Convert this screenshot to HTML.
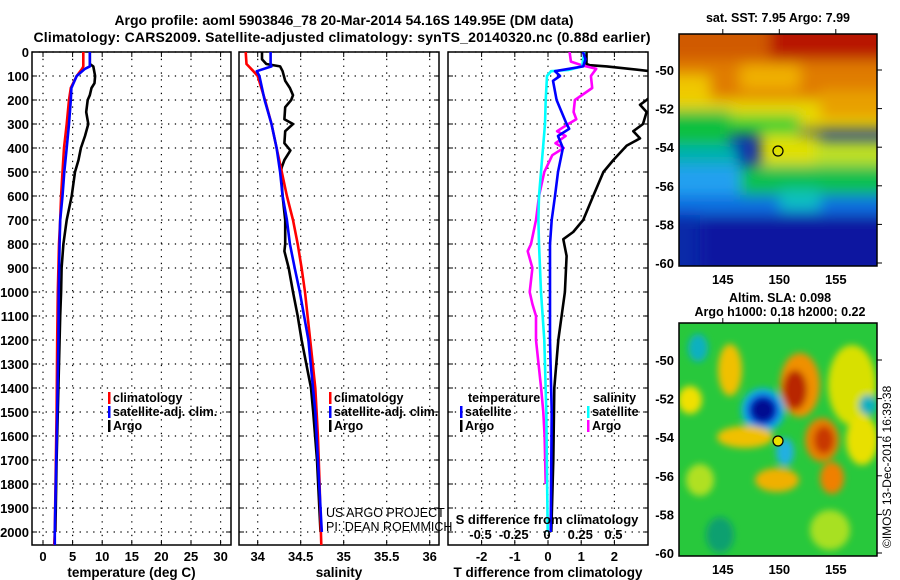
<!DOCTYPE html>
<html><head><meta charset="utf-8"><style>
html,body{margin:0;padding:0;background:#fff;}
svg{display:block;font-family:"Liberation Sans",sans-serif;}
.b{font-weight:bold;}
</style></head><body>
<svg id="c" width="900" height="580" viewBox="0 0 900 580">
<defs>
<filter id="bl" x="-20%" y="-20%" width="140%" height="140%"><feGaussianBlur stdDeviation="7"/></filter>
<filter id="bl2" x="-30%" y="-30%" width="160%" height="160%"><feGaussianBlur stdDeviation="3.5"/></filter>
<clipPath id="m1c"><rect x="679" y="34" width="198" height="232"/></clipPath>
<clipPath id="m2c"><rect x="679" y="323" width="198" height="233"/></clipPath>
<clipPath id="p1c"><rect x="32" y="52" width="199" height="493"/></clipPath>
<clipPath id="p2c"><rect x="239" y="52" width="200" height="493"/></clipPath>
<clipPath id="p3c"><rect x="448" y="52" width="200" height="493"/></clipPath>
</defs>
<text class="b" x="344" y="25" font-size="14" text-anchor="middle">Argo profile: aoml 5903846_78 20-Mar-2014 54.16S 149.95E (DM data)</text>
<text class="b" x="342" y="42" font-size="14" text-anchor="middle" textLength="617">Climatology: CARS2009. Satellite-adjusted climatology: synTS_20140320.nc (0.88d earlier)</text>

<!-- SST map -->
<g>
<g clip-path="url(#m1c)">
<rect x="679" y="34" width="198" height="232" fill="#0a2aa8"/>
<g filter="url(#bl)">
<rect x="660" y="20" width="240" height="60" fill="#d05a00"/>
<rect x="770" y="20" width="130" height="40" fill="#b81800"/>
<rect x="660" y="60" width="240" height="40" fill="#e07c00"/>
<rect x="660" y="75" width="50" height="30" fill="#f0c800"/>
<rect x="740" y="65" width="60" height="25" fill="#f0b000"/>
<rect x="660" y="100" width="240" height="30" fill="#e8d800"/>
<rect x="820" y="90" width="80" height="30" fill="#e8a000"/>
<rect x="660" y="110" width="70" height="40" fill="#10c040"/>
<rect x="730" y="115" width="70" height="20" fill="#30d030"/>
<rect x="760" y="135" width="60" height="35" fill="#e0e000"/>
<rect x="815" y="140" width="85" height="30" fill="#c0e020"/>
<rect x="660" y="145" width="80" height="25" fill="#00b0b0"/>
<rect x="660" y="165" width="90" height="30" fill="#20a0f0"/>
<rect x="740" y="165" width="160" height="30" fill="#10c050"/>
<rect x="660" y="195" width="240" height="20" fill="#1070e0"/>
<rect x="780" y="190" width="40" height="20" fill="#10c0c0"/>
<rect x="700" y="215" width="200" height="60" fill="#0818a0"/>
</g></g>
<rect x="679" y="34" width="198" height="232" fill="none" stroke="#000" stroke-width="1.5"/>
<circle cx="778" cy="151" r="5" fill="none" stroke="#000" stroke-width="1.2"/>
<text class="b" x="778" y="22" font-size="12.5" text-anchor="middle">sat. SST: 7.95 Argo: 7.99</text>
</g>

<!-- SLA map -->
<g>
<g clip-path="url(#m2c)">
<rect x="679" y="323" width="198" height="233" fill="#28c83c"/>
<g filter="url(#bl2)">
<ellipse cx="698" cy="348" rx="10" ry="14" fill="#10b0c0"/>
<ellipse cx="730" cy="370" rx="12" ry="26" fill="#f0c000"/>
<ellipse cx="800" cy="385" rx="20" ry="32" fill="#f09000"/>
<ellipse cx="795" cy="390" rx="12" ry="20" fill="#b82800"/>
<ellipse cx="690" cy="400" rx="12" ry="14" fill="#f0e000"/>
<circle cx="763" cy="410" r="22" fill="#10b0e0"/>
<circle cx="763" cy="410" r="16" fill="#1040e0"/>
<circle cx="763" cy="410" r="12" fill="#000a90"/>
<ellipse cx="745" cy="437" rx="28" ry="11" fill="#f0c000"/>
<ellipse cx="822" cy="440" rx="17" ry="22" fill="#e88000"/>
<ellipse cx="824" cy="440" rx="10" ry="14" fill="#c83800"/>
<ellipse cx="785" cy="452" rx="9" ry="14" fill="#20b0e0"/>
<ellipse cx="777" cy="480" rx="22" ry="12" fill="#f0b000"/>
<ellipse cx="832" cy="478" rx="12" ry="16" fill="#f08000"/>
<ellipse cx="852" cy="385" rx="24" ry="40" fill="#d8e000"/>
<ellipse cx="862" cy="440" rx="16" ry="25" fill="#e8e000"/>
<ellipse cx="868" cy="405" rx="9" ry="10" fill="#10b0c0"/>
<ellipse cx="700" cy="480" rx="14" ry="16" fill="#b0e020"/>
<ellipse cx="720" cy="535" rx="14" ry="18" fill="#10a070"/>
<ellipse cx="830" cy="530" rx="20" ry="20" fill="#a8e020"/>
</g></g>
<rect x="679" y="323" width="198" height="233" fill="none" stroke="#000" stroke-width="1.5"/>
<circle cx="778" cy="441" r="5" fill="#e8e000" stroke="#000" stroke-width="1.2"/>
<text class="b" x="780" y="302" font-size="12.5" text-anchor="middle">Altim. SLA: 0.098</text>
<text class="b" x="780" y="316" font-size="12.5" text-anchor="middle">Argo h1000: 0.18 h2000: 0.22</text>
</g>
<text x="891" y="548" font-size="12" transform="rotate(-90 891 548)">©IMOS 13-Dec-2016 16:39:38</text>
<g id="dyn"></g>
</svg>
<script>
// ---- data ----
var tDepth = [0,60,70,100,150,200,300,400,500,600,700,800,1000,1200,1500,2000,2055];
var tClim  = [6.8,6.8,6.6,5.7,4.7,4.4,4.0,3.55,3.3,3.05,2.9,2.7,2.5,2.4,2.3,2.0,1.9];
var tSat   = [7.9,7.9,7.1,5.7,4.8,4.7,4.4,4.0,3.6,3.3,2.9,2.8,2.65,2.6,2.4,2.0,2.0];
var aDepth = [0,50,60,100,130,150,180,200,250,300,350,400,450,500,600,700,800,900,1000,1100,1200,1500,1700,2000];
var tArgo  = [7.9,7.9,8.5,8.8,8.7,8.2,7.9,7.55,7.3,7.65,7.1,6.4,6.0,5.4,4.85,4.0,3.45,3.15,3.05,2.9,2.8,2.5,2.3,2.1];
var sDepth = [0,50,80,100,200,300,400,500,600,700,800,900,1000,1100,1200,1400,1600,1800,2000,2055];
var sClim  = [33.86,33.87,33.95,34.0,34.085,34.16,34.22,34.28,34.34,34.41,34.465,34.51,34.55,34.58,34.61,34.67,34.70,34.72,34.735,34.74];
var sbDepth= [0,50,60,80,100,200,300,400,500,600,700,800,900,1000,1100,1200,1500,2000];
var sSat   = [34.15,34.15,34.16,33.99,34.02,34.08,34.16,34.22,34.26,34.29,34.34,34.375,34.43,34.49,34.54,34.59,34.67,34.745];
var saDepth= [0,30,50,60,80,120,150,180,200,230,280,300,330,380,410,450,480,500,600,700,800,830,900,1000,1100,1200,1400,1500,1700,2000];
var sArgo  = [34.05,34.05,34.10,34.26,34.29,34.32,34.375,34.41,34.39,34.32,34.31,34.41,34.32,34.31,34.38,34.31,34.28,34.27,34.29,34.32,34.32,34.31,34.36,34.41,34.465,34.51,34.62,34.645,34.69,34.73];
var dtDepth= [0,30,60,80,100,120,200,300,320,350,400,500,600,700,800,1000,1200,1500,2000];
var dtSat  = [1.05,1.13,1.06,0.21,0.36,0.15,0.26,0.56,0.64,0.3,0.45,0.3,0.21,0.11,0.06,0.06,0.06,0.11,0.08];
var dsDepth= [0,60,75,80,100,200,300,400,500,600,700,800,1000,1200,1500,2000];
var dsSat  = [0.28,0.265,0.16,0.03,0.0,-0.01,-0.015,-0.03,-0.045,-0.06,-0.065,-0.06,-0.045,-0.02,-0.005,0.005];
var daDepth= [0,40,55,70,100,150,200,250,280,300,330,350,380,400,430,500,600,700,800,830,900,1000,1050,1100,1200,1400,1500,1600,1800];
var dsArgo = [0.17,0.18,0.26,0.37,0.33,0.34,0.21,0.2,0.22,0.16,0.076,0.14,0.064,0.125,0.04,-0.02,-0.06,-0.083,-0.12,-0.145,-0.11,-0.13,-0.11,-0.083,-0.083,-0.044,-0.028,-0.018,-0.01];
var dtaDepth=[0,50,55,60,80,100,150,200,220,250,300,330,360,390,450,500,600,700,750,780,850,1000,1100,1200,1400,1700,2000];
var dtArgo = [1.16,1.16,1.26,1.77,3.1,3.6,3.4,2.97,2.77,2.97,2.86,2.57,2.77,2.37,1.97,1.67,1.36,1.06,0.76,0.46,0.56,0.51,0.41,0.31,0.19,0.16,0.1];
var depthTicks=[0,100,200,300,400,500,600,700,800,900,1000,1100,1200,1300,1400,1500,1600,1700,1800,1900,2000];
var tTicks=[0,5,10,15,20,25,30];
var sTicks=[34,34.5,35,35.5,36];
var sTickLabels=["34","34.5","35","35.5","36"];
var dtTicks=[-2,-1,0,1,2];
var dsTicks=[-0.5,-0.25,0,0.25,0.5];
var dsTickLabels=["-0.5","-0.25","0","0.25","0.5"];

// ---- axes ----
function yD(d){return 52+d*0.24;}
function xT(t){return 43+t*5.92;}
function xS(s){return 257.7+(s-34)*86;}
function xDT(v){return 548+v*33.2;}
function xDS(v){return 547+v*133;}
var NS='http://www.w3.org/2000/svg';
var root=document.getElementById('dyn');
function mk(tag,attrs,parent){var e=document.createElementNS(NS,tag);for(var k in attrs)e.setAttribute(k,attrs[k]);(parent||root).appendChild(e);return e;}
function txt(x,y,s,anchor,size,bold,parent){var e=mk('text',{x:x,y:y,'font-size':size||13,'text-anchor':anchor||'middle'},parent);if(bold!==false)e.setAttribute('font-weight','bold');e.textContent=s;return e;}

var panels=[{x0:32,x1:231,ticks:tTicks,labels:tTicks.map(String),fx:xT,title:'temperature (deg C)',name:'temperature'},
 {x0:239,x1:439,ticks:sTicks,labels:sTickLabels,fx:xS,title:'salinity',name:'salinity'},
 {x0:448,x1:648,ticks:dtTicks,labels:dtTicks.map(String),fx:xDT,title:'T difference from climatology',name:'difference'}];
panels.forEach(function(p,i){
  var g=mk('g',{});
  
  
  depthTicks.forEach(function(d){
    mk('line',{x1:p.x0,x2:p.x1,y1:yD(d),y2:yD(d),stroke:'#000','stroke-width':1.2,'stroke-dasharray':'1.3 5.5'},g);
    mk('line',{x1:p.x0,x2:p.x0+5,y1:yD(d),y2:yD(d),stroke:'#000'},g);
    mk('line',{x1:p.x1-5,x2:p.x1,y1:yD(d),y2:yD(d),stroke:'#000'},g);
  });
  p.ticks.forEach(function(t,j){
    var x=p.fx(t);
    mk('line',{x1:x,x2:x,y1:52,y2:545,stroke:'#000','stroke-width':1.2,'stroke-dasharray':'1.3 5.5'},g);
    mk('line',{x1:x,x2:x,y1:545,y2:540,stroke:'#000'},g);
    mk('line',{x1:x,x2:x,y1:52,y2:57,stroke:'#000'},g);
    var lb=txt(x,561,p.labels[j],'middle',13,true,g);
    
    
  });
  mk('rect',{x:p.x0,y:52,width:p.x1-p.x0,height:493,fill:'none',stroke:'#000','stroke-width':1.5},g);
  var tt=txt((p.x0+p.x1)/2,577,p.title,'middle',13.5,true,g);
  
  
});
depthTicks.forEach(function(d){
  var e=txt(29,yD(d)+5,String(d),'end',13,true);
  
  
});
function mapAxes(top,bot,latY0){
  [-50,-52,-54,-56,-58,-60].forEach(function(l){var y=latY0+(-50-l)*19.3;
    mk('line',{x1:877,x2:882,y1:y,y2:y,stroke:'#000'});
    var e=txt(674,y+5,String(l),'end',13,true);
    
    });
  [145,150,155].forEach(function(lo){var x=779.3+(lo-150)*11.3;
    mk('line',{x1:x,x2:x,y1:top,y2:top-5,stroke:'#000'});
    var e=txt(x,bot+18,String(lo),'middle',13,true);
    
    });
}
mapAxes(34,266,70); mapAxes(323,556,360);

function series(depths,vals,fx,color,clip,name,w){
  var pts=depths.map(function(d,i){return fx(vals[i]).toFixed(1)+','+yD(d).toFixed(1);}).join(' ');
  var e=mk('polyline',{points:pts,fill:'none',stroke:color,'stroke-width':w||2.6,'clip-path':'url(#'+clip+')','stroke-linejoin':'round'});
  
  
}
series(aDepth,tArgo,xT,'#000','p1c','temp-argo-line');
series(tDepth,tClim,xT,'#f00','p1c','temp-climatology-line');
series(tDepth,tSat,xT,'#00f','p1c','temp-satellite-line');
series(saDepth,sArgo,xS,'#000','p2c','sal-argo-line');
series(sDepth,sClim,xS,'#f00','p2c','sal-climatology-line');
series(sbDepth,sSat,xS,'#00f','p2c','sal-satellite-line');
series(dtaDepth,dtArgo,xDT,'#000','p3c','tdiff-argo-line');
series(daDepth,dsArgo,xDS,'#f0f','p3c','sdiff-argo-line');
series(dsDepth,dsSat,xDS,'#0ff','p3c','sdiff-satellite-line');
series(dtDepth,dtSat,xDT,'#00f','p3c','tdiff-satellite-line');

function leg(x,y,color,label,name){
  mk('rect',{x:x,y:y-10,width:2.5,height:12,fill:color});
  var e=txt(x+5,y,label,'start',12.5,true);
  
  
}
leg(108,402,'#f00','climatology','legend-temp-climatology');
leg(108,416,'#00f','satellite-adj. clim.','legend-temp-satellite');
leg(108,430,'#000','Argo','legend-temp-argo');
leg(329,402,'#f00','climatology','legend-sal-climatology');
leg(329,416,'#00f','satellite-adj. clim.','legend-sal-satellite');
leg(329,430,'#000','Argo','legend-sal-argo');
var t1=txt(468,402,'temperature','start',12.5,true);  
leg(460,416,'#00f','satellite','legend-tdiff-satellite');
leg(460,430,'#000','Argo','legend-tdiff-argo');
var t2=txt(593,402,'salinity','start',12.5,true);  
leg(587,416,'#0ff','satellite','legend-sdiff-satellite');
leg(587,430,'#f0f','Argo','legend-sdiff-argo');
var st=txt(547,524,'S difference from climatology','middle',13,true);  
dsTicks.forEach(function(v,i){var e=txt(xDS(v),539,dsTickLabels[i],'middle',13,true);
  
  });
var c1=txt(326,517,'US ARGO PROJECT','start',12.5,false);  
var c2=txt(326,531,'PI: DEAN ROEMMICH','start',12.5,false);  
</script>
</body></html>
